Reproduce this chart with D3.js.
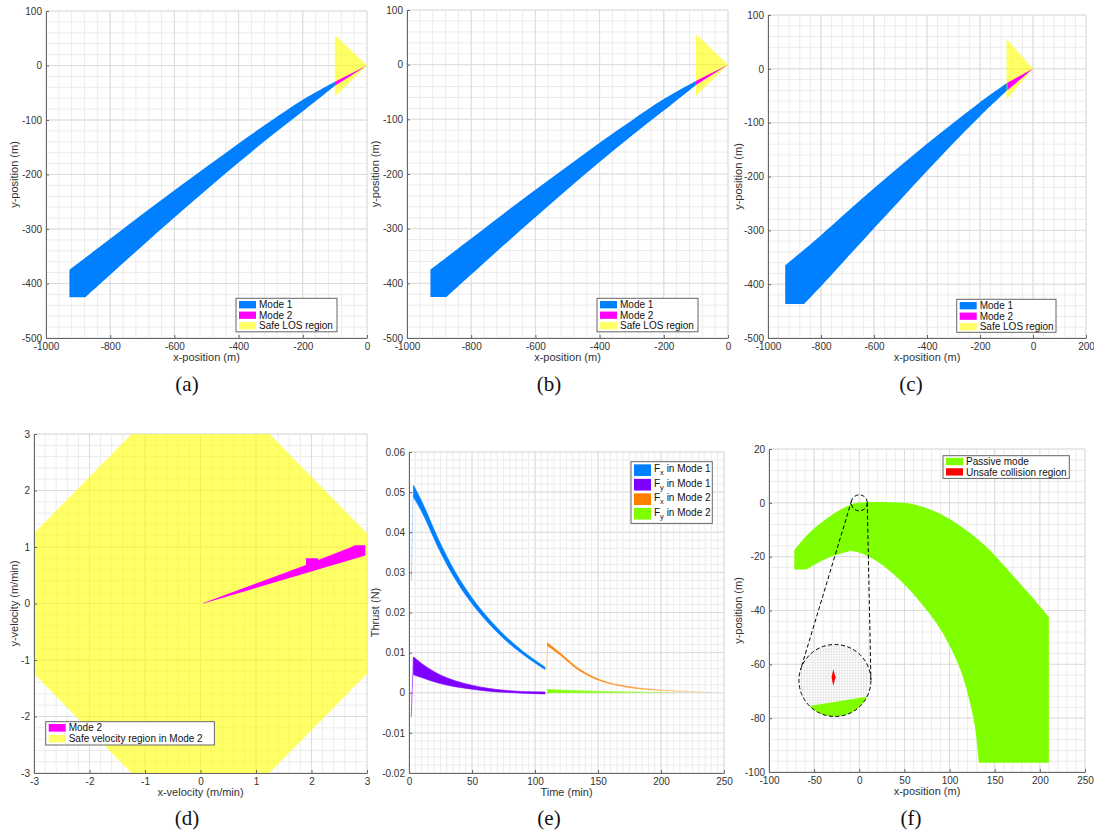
<!DOCTYPE html>
<html>
<head>
<meta charset="utf-8">
<script src="https://cdn.jsdelivr.net/npm/d3@7"></script>
<style>
  body { margin: 0; background: #fff; }
  svg { display: block; }
</style>
</head>
<body>
<svg id="fig" width="1094" height="838" font-family='"Liberation Sans", Arial, sans-serif'></svg>
<script>
// ---- data ----
// (a)/(b): position reach set, Mode 1 band edges [x, y] (m)
const posMode1Upper = [[-927,-375],[-800,-318],[-700,-273],[-600,-229],[-500,-186],[-400,-143],[-300,-102],[-200,-63],[-100,-30]];
const posMode1Lower = [[-877,-425],[-800,-384],[-700,-331],[-600,-279],[-500,-228],[-400,-178],[-300,-130],[-200,-84],[-100,-37]];
const posMode1Bottom = [[-877,-425],[-927,-425]];
const posMode2 = [[-100,-30],[0,0],[-100,-37]];
const losRegion = [[-100,56],[0,0],[-100,-57]];

// (c)
const cMode1Upper = [[-935,-365],[-800,-309],[-700,-265],[-600,-222],[-500,-180],[-400,-139],[-300,-100],[-200,-62],[-97,-26]];
const cMode1Lower = [[-864,-437],[-800,-404],[-700,-350],[-600,-296],[-500,-243],[-400,-190],[-300,-138],[-200,-88],[-97,-40]];
const cMode1Bottom = [[-864,-437],[-935,-437]];
const cMode2 = [[-97,-26],[0,0],[-97,-40]];
const cLos = [[-100,56],[0,0],[-100,-57]];

// (d): velocity (m/min)
const velSafe = [[1.243,3],[3,1.243],[3,-1.243],[1.243,-3],[-1.243,-3],[-3,-1.243],[-3,1.243],[-1.243,3]];
const velMode2 = [[0.05,0.01],[1.90,0.68],[1.90,0.80],[2.12,0.80],[2.12,0.77],[2.70,0.99],[2.78,1.03],[2.97,1.03],[2.97,0.85],[0.05,0.0]];

// (e): thrust bands [t (min), upper (N), lower (N)]
const fxMode1 = [[3.6,0.0517,0.0487],[10,0.0478,0.0452],[23.3,0.0383,0.0361],[36.5,0.0302,0.0284],[49.7,0.0238,0.0223],[62.9,0.0186,0.0174],[76.2,0.0142,0.0132],[89.4,0.0106,0.0098],[107.9,0.0064,0.0058]];
const fyMode1 = [[3.6,0.0089,0.0045],[10,0.0073,0.0038],[23.3,0.0047,0.0024],[36.5,0.0030,0.0015],[49.7,0.0019,0.0009],[62.9,0.0011,0.0004],[76.2,0.0006,0.0001],[89.4,0.0003,-0.0001],[107.9,0.0002,-0.0003]];
const fxMode2 = [[110,0.0124,0.0117],[120,0.0099,0.0094],[133,0.0064,0.0060],[146,0.0040,0.0037],[159,0.0025,0.0023],[173,0.0016,0.0014],[199,0.0007,0.0006],[226,0.0003,0.0002],[240,0.0001,0.0001]];
const fyMode2 = [[110,0.0009,-0.0002],[112,0.0008,0.0],[136,0.0005,0.0],[160,0.0003,0.0],[190,0.0002,0.0],[215,0.0001,0.0]];
const fxMode1Jump = [[1.9,0.028],[3.4,0.0514]];
const fyMode1Jump = [[1.8,-0.006],[3.5,0.0088]];
const fxMode2Jump = [[109,0.0057],[110,0.0124]];

// (f): passive mode region [x, y] (m)
const passiveOuter = [[-72,-17.6],[-58,-12],[-43,-7.6],[-25,-3.3],[-10,-0.8],[-2,0],[49,0],[67,-1.2],[86,-3.5],[104,-6.8],[122,-11],[141,-16.4],[159,-22.8],[178,-30],[196,-36.8],[210,-42.4]];
const passiveRight = [[210,-42.4],[210,-96.6]];
const passiveBottom = [[210,-96.6],[132.5,-96.6]];
const passiveInnerRight = [[-10,-17.9],[1,-18.6],[15.7,-21],[30.4,-24.4],[48.9,-30],[67.3,-36.8],[85.7,-44.8],[100,-53],[112,-62],[121,-72],[128,-83],[132.5,-96.6]];
const passiveInnerLeft = [[-58.5,-24.8],[-35,-20.5],[-10,-17.9]];
const passiveStep = [[-58.5,-24.8],[-72,-24.8]];
const zoomSpot = [0, 0];
const insetCenter = [-27, -66];
// inset (magnified) contents, in inset units [-1, 1]
const insetUnsafe = [[-0.047,0.31],[0.019,0.089],[-0.047,-0.153],[-0.092,0.089]];
const insetPassive = [[-1,-0.76],[1,-0.43],[1,-1],[-1,-1]];

// ticks
const posXTicks = [-1000,-800,-600,-400,-200,0];
const posXTicksC = [-1000,-800,-600,-400,-200,0,200];
const posYTicks = [-500,-400,-300,-200,-100,0,100];
const velTicks = [-3,-2,-1,0,1,2,3];
const timeTicks = [0,50,100,150,200,250];
const thrustTicks = [-0.02,-0.01,0,0.01,0.02,0.03,0.04,0.05,0.06];
const fXTicks = [-100,-50,0,50,100,150,200,250];
const fYTicks = [-100,-80,-60,-40,-20,0,20];

const BLUE = '#0080ff', MAGENTA = '#ff00ff', YELLOW = '#ffff00', PURPLE = '#8000ff',
      ORANGE = '#ff8000', GREEN = '#80ff00', RED = '#ff0000';

const svg = d3.select('#fig');
svg.append('rect').attr('width', 1094).attr('height', 838).attr('fill', '#fff');
const defs = svg.append('defs');
const fmt = d => String(+d.toFixed(4));

function panel(p) {
  const sx = d3.scaleLinear().domain(p.xd).range([p.l, p.r]);
  const sy = d3.scaleLinear().domain(p.yd).range([p.b, p.t]);
  const g = svg.append('g');
  const id = 'clip-' + p.key;
  defs.append('clipPath').attr('id', id).append('rect')
      .attr('x', p.l).attr('y', p.t).attr('width', p.r - p.l).attr('height', p.b - p.t);

  const grid = g.append('g').attr('stroke-width', 1);
  const mx = d3.range(p.xd[0], p.xd[1] + 1e-9, p.xm);
  const my = d3.range(p.yd[0], p.yd[1] + 1e-9, p.ym);
  grid.selectAll('.mx').data(mx).join('line').attr('class', 'mx')
      .attr('x1', d => sx(d)).attr('x2', d => sx(d)).attr('y1', p.t).attr('y2', p.b).attr('stroke', '#ececec');
  grid.selectAll('.my').data(my).join('line').attr('class', 'my')
      .attr('y1', d => sy(d)).attr('y2', d => sy(d)).attr('x1', p.l).attr('x2', p.r).attr('stroke', '#ececec');
  grid.selectAll('.gx').data(p.xt).join('line').attr('class', 'gx')
      .attr('x1', d => sx(d)).attr('x2', d => sx(d)).attr('y1', p.t).attr('y2', p.b).attr('stroke', '#dcdcdc');
  grid.selectAll('.gy').data(p.yt).join('line').attr('class', 'gy')
      .attr('y1', d => sy(d)).attr('y2', d => sy(d)).attr('x1', p.l).attr('x2', p.r).attr('stroke', '#dcdcdc');

  const plot = g.append('g').attr('clip-path', `url(#${id})`);
  const axes = g.append('g');
  return { g, plot, axes, sx, sy, p };
}

function drawAxes(P) {
  const { axes, sx, sy, p } = P;
  const ax = axes.append('g').attr('transform', `translate(0,${p.b})`)
      .call(d3.axisBottom(sx).tickValues(p.xt).tickFormat(fmt).tickSizeInner(-3).tickSizeOuter(0).tickPadding(5));
  const ay = axes.append('g').attr('transform', `translate(${p.l},0)`)
      .call(d3.axisLeft(sy).tickValues(p.yt).tickFormat(fmt).tickSizeInner(-3).tickSizeOuter(0).tickPadding(4));
  [ax, ay].forEach(a => {
    a.attr('font-family', '"Liberation Sans", Arial, sans-serif').attr('font-size', 10);
    a.select('.domain').attr('stroke', '#666');
    a.selectAll('.tick line').attr('stroke', '#666');
    a.selectAll('.tick text').attr('fill', '#333');
  });
  axes.append('text').attr('x', (p.l + p.r) / 2).attr('y', p.b + 23)
      .attr('text-anchor', 'middle').attr('font-size', 11).attr('fill', '#333').text(p.xlabel);
  axes.append('text').attr('transform', `translate(${p.ylx},${(p.t + p.b) / 2}) rotate(-90)`)
      .attr('dy', '0.35em').attr('text-anchor', 'middle').attr('font-size', 11).attr('fill', '#333').text(p.ylabel);
}

function ring(segments, sx, sy) {
  const line = d3.line().x(d => sx(d[0])).y(d => sy(d[1])).curve(d3.curveCatmullRom);
  return segments.map((s, i) => {
    const d = s.length > 2 ? line(s) : 'M' + s.map(q => sx(q[0]) + ',' + sy(q[1])).join('L');
    return i ? d.replace(/^M/, 'L') : d;
  }).join('') + 'Z';
}

function poly(pts, sx, sy) {
  return d3.line().x(d => sx(d[0])).y(d => sy(d[1]))(pts) + 'Z';
}

function legend(g, box, items, opts = {}) {
  const rowH = opts.rowH || 10.5, patchH = opts.patchH || 7.3, first = opts.first || 6.4;
  const lg = g.append('g');
  lg.append('rect').attr('x', box[0]).attr('y', box[1]).attr('width', box[2]).attr('height', box[3])
      .attr('fill', '#fff').attr('stroke', '#666').attr('stroke-width', 1);
  items.forEach((it, i) => {
    const cy = box[1] + first + i * rowH;
    lg.append('rect').attr('x', box[0] + 3).attr('y', cy - patchH / 2).attr('width', 17).attr('height', patchH)
        .attr('fill', it.color).attr('fill-opacity', it.alpha || 1);
    const t = lg.append('text').attr('x', box[0] + 23).attr('y', cy + (it.sub ? 2 : 3.6))
        .attr('font-size', 10).attr('fill', '#111');
    if (it.sub) {
      t.append('tspan').text('F');
      t.append('tspan').attr('dy', 3).attr('font-size', 7.5).text(it.sub);
      t.append('tspan').attr('dy', -3).text(' in ' + it.label);
    } else {
      t.text(it.label);
    }
  });
}

function caption(x, y, s) {
  svg.append('text').attr('x', x).attr('y', y).attr('text-anchor', 'middle')
      .attr('font-family', '"Liberation Serif", "DejaVu Serif", serif').attr('font-size', 21)
      .attr('fill', '#111').text(s);
}

// ---- (a), (b), (c): position ----
const posPanels = [
  { key: 'a', l: 46, r: 367, t: 11, b: 338, ylx: 14, xd: [-1000, 0], xt: posXTicks, box: [236, 298.3, 101, 33.5],
    upper: posMode1Upper, lower: posMode1Lower, bottom: posMode1Bottom, mode2: posMode2, los: losRegion },
  { key: 'b', l: 407, r: 728, t: 10, b: 338, ylx: 375, xd: [-1000, 0], xt: posXTicks, box: [597, 298.3, 101, 33.5],
    upper: posMode1Upper, lower: posMode1Lower, bottom: posMode1Bottom, mode2: posMode2, los: losRegion },
  { key: 'c', l: 768, r: 1086, t: 15, b: 338, ylx: 738, xd: [-1000, 200], xt: posXTicksC, box: [956.7, 299.3, 99.3, 33],
    upper: cMode1Upper, lower: cMode1Lower, bottom: cMode1Bottom, mode2: cMode2, los: cLos }
];
posPanels.forEach(d => {
  const P = panel({ key: d.key, l: d.l, r: d.r, t: d.t, b: d.b, ylx: d.ylx, xd: d.xd, yd: [-500, 100],
    xt: d.xt, yt: posYTicks, xm: 40, ym: 20, xlabel: 'x-position (m)', ylabel: 'y-position (m)' });
  P.plot.append('path').attr('d', ring([d.upper, d.lower.slice().reverse(), d.bottom], P.sx, P.sy)).attr('fill', BLUE);
  P.plot.append('path').attr('d', poly(d.los, P.sx, P.sy)).attr('fill', YELLOW).attr('fill-opacity', 0.6);
  P.plot.append('path').attr('d', poly(d.mode2, P.sx, P.sy)).attr('fill', MAGENTA);
  drawAxes(P);
  legend(P.g, d.box, [
    { label: 'Mode 1', color: BLUE },
    { label: 'Mode 2', color: MAGENTA },
    { label: 'Safe LOS region', color: YELLOW, alpha: 0.6 }
  ]);
});

// ---- (d): velocity ----
{
  const P = panel({ key: 'd', l: 34, r: 367, t: 434, b: 773, ylx: 14, xd: [-3, 3], yd: [-3, 3],
    xt: velTicks, yt: velTicks, xm: 0.2, ym: 0.2, xlabel: 'x-velocity (m/min)', ylabel: 'y-velocity (m/min)' });
  P.plot.append('path').attr('d', poly(velSafe, P.sx, P.sy)).attr('fill', YELLOW).attr('fill-opacity', 0.6);
  P.plot.append('path').attr('d', poly(velMode2, P.sx, P.sy)).attr('fill', MAGENTA);
  drawAxes(P);
  legend(P.g, [45.7, 721.7, 168.7, 23.3], [
    { label: 'Mode 2', color: MAGENTA },
    { label: 'Safe velocity region in Mode 2', color: YELLOW, alpha: 0.6 }
  ], { first: 6.1, rowH: 10.9, patchH: 7.7 });
}

// ---- (e): thrust ----
{
  const P = panel({ key: 'e', l: 409, r: 724, t: 452, b: 773, ylx: 375, xd: [0, 250], yd: [-0.02, 0.06],
    xt: timeTicks, yt: thrustTicks, xm: 5, ym: 0.002, xlabel: 'Time (min)', ylabel: 'Thrust (N)' });
  const band = d3.area().x(d => P.sx(d[0])).y0(d => P.sy(d[2])).y1(d => P.sy(d[1])).curve(d3.curveMonotoneX);
  const jump = d3.line().x(d => P.sx(d[0])).y(d => P.sy(d[1]));
  // Mode 2 traces fade out as the band gets thinner
  [['fadeOrange', ORANGE, fxMode2], ['fadeGreen', GREEN, fyMode2]].forEach(([id, c, s]) => {
    const gr = defs.append('linearGradient').attr('id', id).attr('gradientUnits', 'userSpaceOnUse')
        .attr('x1', P.sx(s[0][0])).attr('x2', P.sx(s[s.length - 1][0])).attr('y1', 0).attr('y2', 0);
    gr.append('stop').attr('offset', 0).attr('stop-color', c).attr('stop-opacity', 1);
    gr.append('stop').attr('offset', 0.45).attr('stop-color', c).attr('stop-opacity', 0.75);
    gr.append('stop').attr('offset', 1).attr('stop-color', c).attr('stop-opacity', 0.12);
  });
  P.plot.append('path').attr('d', jump(fxMode1Jump)).attr('stroke', BLUE).attr('stroke-opacity', 0.3).attr('fill', 'none');
  P.plot.append('path').attr('d', jump(fyMode1Jump)).attr('stroke', PURPLE).attr('stroke-opacity', 0.6).attr('fill', 'none');
  P.plot.append('path').attr('d', jump(fxMode2Jump)).attr('stroke', ORANGE).attr('stroke-opacity', 0.3).attr('fill', 'none');
  [[fxMode1, BLUE], [fyMode1, PURPLE], [fxMode2, 'url(#fadeOrange)'], [fyMode2, 'url(#fadeGreen)']].forEach(([s, c]) => {
    P.plot.append('path').attr('d', band(s)).attr('fill', c).attr('stroke', c).attr('stroke-width', 0.6);
  });
  drawAxes(P);
  legend(P.g, [631, 461.7, 81.3, 61.7], [
    { sub: 'x', label: 'Mode 1', color: BLUE },
    { sub: 'y', label: 'Mode 1', color: PURPLE },
    { sub: 'x', label: 'Mode 2', color: ORANGE },
    { sub: 'y', label: 'Mode 2', color: GREEN }
  ], { first: 8.5, rowH: 14.5, patchH: 11.7 });
}

// ---- (f): passive mode ----
{
  const P = panel({ key: 'f', l: 769, r: 1085, t: 449, b: 772, ylx: 738, xd: [-100, 250], yd: [-100, 20],
    xt: fXTicks, yt: fYTicks, xm: 10, ym: 4, xlabel: 'x-position (m)', ylabel: 'y-position (m)' });
  const { sx, sy } = P;
  P.plot.append('path').attr('d', ring([passiveOuter, passiveRight, passiveBottom,
      passiveInnerRight.slice().reverse(), passiveInnerLeft.slice().reverse(), passiveStep], sx, sy))
      .attr('fill', GREEN);

  // magnified inset
  const c1 = [sx(zoomSpot[0]), sy(zoomSpot[1])], r1 = 8;
  const c2 = [sx(insetCenter[0]), sy(insetCenter[1])], r2 = 36;
  const ix = d3.scaleLinear().domain([-1, 1]).range([c2[0] - r2, c2[0] + r2]);
  const iy = d3.scaleLinear().domain([-1, 1]).range([c2[1] + r2, c2[1] - r2]);
  defs.append('clipPath').attr('id', 'clip-inset').append('circle').attr('cx', c2[0]).attr('cy', c2[1]).attr('r', r2);
  const inset = P.g.append('g');
  const ins = inset.append('g').attr('clip-path', 'url(#clip-inset)');
  ins.append('circle').attr('cx', c2[0]).attr('cy', c2[1]).attr('r', r2).attr('fill', '#fff');
  const fine = d3.range(-1, 1.0001, 0.075);
  ins.selectAll('.fx').data(fine).join('line').attr('x1', d => ix(d)).attr('x2', d => ix(d))
      .attr('y1', iy(-1)).attr('y2', iy(1)).attr('stroke', '#d6d6d6').attr('stroke-width', 0.5);
  ins.selectAll('.fy').data(fine).join('line').attr('y1', d => iy(d)).attr('y2', d => iy(d))
      .attr('x1', ix(-1)).attr('x2', ix(1)).attr('stroke', '#d6d6d6').attr('stroke-width', 0.5);
  ins.append('path').attr('d', poly(insetPassive, ix, iy)).attr('fill', GREEN);
  ins.append('path').attr('d', poly(insetUnsafe, ix, iy)).attr('fill', RED);

  // external tangents between the two circles
  const dx = c2[0] - c1[0], dy = c2[1] - c1[1], D = Math.hypot(dx, dy);
  const base = Math.atan2(dy, dx), alpha = Math.acos((r1 - r2) / D);
  [base + alpha, base - alpha].forEach(a => {
    inset.append('line')
        .attr('x1', c1[0] + r1 * Math.cos(a)).attr('y1', c1[1] + r1 * Math.sin(a))
        .attr('x2', c2[0] + r2 * Math.cos(a)).attr('y2', c2[1] + r2 * Math.sin(a))
        .attr('stroke', '#000').attr('stroke-width', 1).attr('stroke-dasharray', '4,2.5');
  });
  [[c1, r1], [c2, r2]].forEach(([c, r]) => {
    inset.append('circle').attr('cx', c[0]).attr('cy', c[1]).attr('r', r)
        .attr('fill', 'none').attr('stroke', '#000').attr('stroke-width', 1).attr('stroke-dasharray', '4,2.5');
  });

  drawAxes(P);
  legend(P.g, [943, 455.7, 126.3, 22.7], [
    { label: 'Passive mode', color: GREEN },
    { label: 'Unsafe collision region', color: RED }
  ], { first: 5.8, rowH: 10.4, patchH: 7.3 });
}

caption(187, 391, '(a)');
caption(549, 391, '(b)');
caption(911, 391, '(c)');
caption(187, 825, '(d)');
caption(549, 825, '(e)');
caption(911, 825, '(f)');
</script>
</body>
</html>
